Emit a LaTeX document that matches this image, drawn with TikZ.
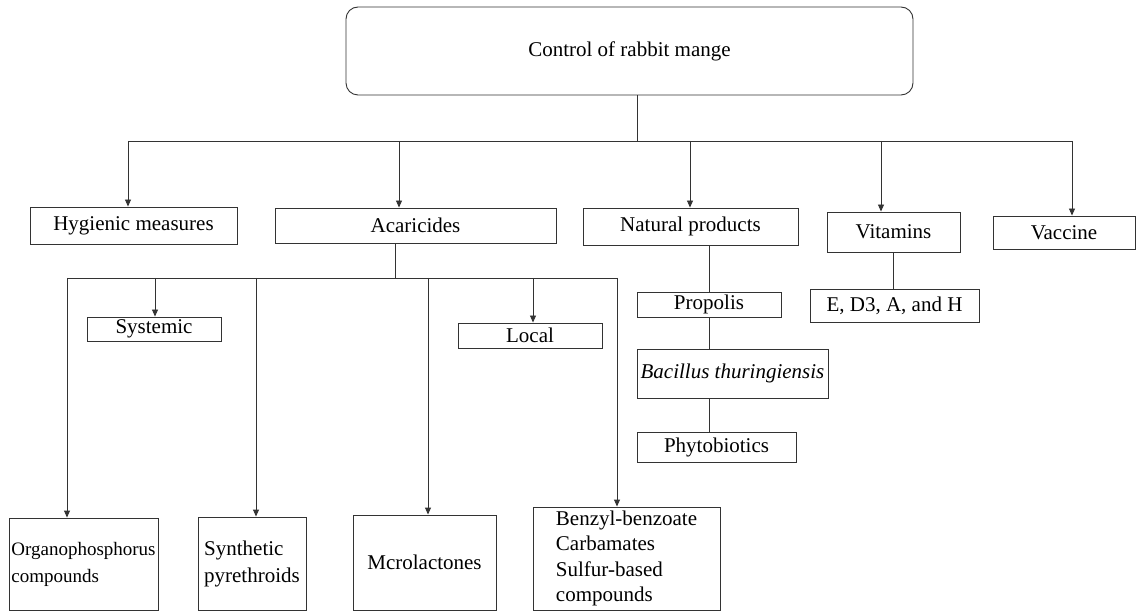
\documentclass[tikz,border=0pt]{standalone}
\usepackage{fontspec}
\setmainfont{Liberation Serif}
\usetikzlibrary{arrows.meta}
\begin{document}
\begin{tikzpicture}[x=1pt,y=-1pt,line width=0.9,draw=black!80,
  box/.style={draw,rectangle,inner sep=0,font=\fontsize{21}{25.5}\selectfont},
  bx/.style 2 args={minimum width=#1,minimum height=#2},
  arr/.style={-{Triangle[length=7,width=6]}}]
\useasboundingbox (0,0) rectangle (1136,612);
\node[box,rounded corners=12,bx={567}{88}] (root) at (629.5,51) {Control of rabbit mange};
\node[box,bx={207}{37}] (hyg) at (133.5,225.5) {Hygienic measures};
\node[box,bx={281}{35}] (acar) at (415.5,225.5) {Acaricides};
\node[box,bx={215}{37}] (nat) at (690.5,226.5) {Natural products};
\node[box,bx={133}{40}] (vit) at (893.5,232) {Vitamins};
\node[box,bx={142}{33}] (vac) at (1064,232.5) {Vaccine};
\node[box,bx={169}{33}] (vite) at (894.5,305.5) {E, D3, A, and H};
\node[box,bx={144}{25}] (prop) at (709,304.5) {Propolis};
\node[box,bx={191}{49}] (bac) at (732.5,373.5) {\textit{Bacillus thuringiensis}};
\node[box,bx={159}{30}] (phy) at (716.5,447) {Phytobiotics};
\node[box,bx={134}{24}] (sys) at (154,329) {Systemic};
\node[box,bx={144}{25}] (loc) at (530,335.5) {Local};
\node[box,bx={149}{92},align=left,font=\fontsize{19}{27}\selectfont] (org) at (83.5,564) {Organophosphorus\\compounds};
\node[box,bx={108}{93},align=left,font=\fontsize{21}{27}\selectfont] (syn) at (252,563.5) {Synthetic\\pyrethroids};
\node[box,bx={143}{95}] (mcr) at (424.5,562.5) {Mcrolactones};
\node[box,bx={187}{103},align=left] (ben) at (626.5,558.5) {Benzyl-benzoate\\Carbamates\\Sulfur-based\\compounds};
\coordinate (top) at (637,141);
\coordinate (mid) at (395,278);
\draw (root.south -| top) -- (top);
\draw (128,141) -- (1072,141);
\foreach \n/\x in {hyg/128,acar/399,nat/690,vit/881,vac/1072}
  \draw[arr] (\x,141) -- (\n.north -| \x,0);
\draw (acar.south -| mid) -- (mid);
\draw (67,278) -- (617,278);
\foreach \n/\x in {org/67,sys/155,syn/256,mcr/428,loc/533,ben/617}
  \draw[arr] (\x,278) -- (\n.north -| \x,0);
\draw (vit.south) -- (vit.south |- vite.north);
\draw (prop.north) -- (prop.north |- nat.south);
\draw (prop.south) -- (prop.south |- bac.north);
\draw (bac.south -| prop) -- (phy.north -| prop);
\end{tikzpicture}
\end{document}
